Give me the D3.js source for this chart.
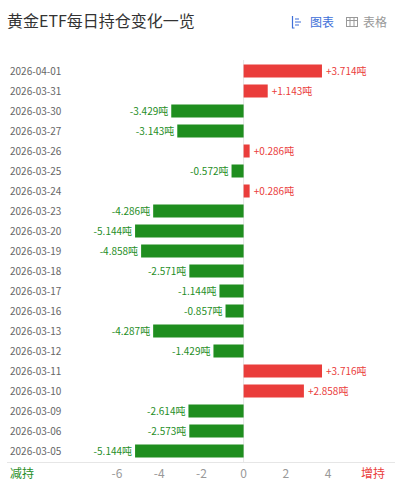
<!DOCTYPE html>
<html><head><meta charset="utf-8">
<script src="https://cdn.jsdelivr.net/npm/d3@7"></script>
<style>body{margin:0;background:#fff;font-family:"Noto Sans CJK SC","Noto Sans",sans-serif;}</style>
</head><body><svg id="c" width="405" height="492"></svg>
<script>
const dates = ["2026-04-01","2026-03-31","2026-03-30","2026-03-27","2026-03-26","2026-03-25","2026-03-24","2026-03-23","2026-03-20","2026-03-19","2026-03-18","2026-03-17","2026-03-16","2026-03-13","2026-03-12","2026-03-11","2026-03-10","2026-03-09","2026-03-06","2026-03-05"];
const values = [3.714,1.143,-3.429,-3.143,0.286,-0.572,0.286,-4.286,-5.144,-4.858,-2.571,-1.144,-0.857,-4.287,-1.429,3.716,2.858,-2.614,-2.573,-5.144];
const ticks = [-6,-4,-2,0,2,4];

const svg = d3.select("#c");
const x = d3.scaleLinear().domain([-6, 4]).range([117, 328]);
const y = d3.scaleBand().domain(dates).range([61, 461]).paddingInner(0.35).paddingOuter(0.175);

svg.append("text").attr("x", 7).attr("y", 27).attr("font-size", 16).attr("fill", "#333").text("黄金ETF每日持仓变化一览");
// icons
const ic = svg.append("g").attr("fill", "none");
ic.append("path").attr("d", "M292.5,16v12h2 M295,19h4 M295,22h6 M295,25h4").attr("stroke", "#3e6fd8").attr("stroke-width", 1.2);
svg.append("text").attr("x", 310).attr("y", 27).attr("font-size", 12).attr("fill", "#3e6fd8").text("图表");
ic.append("rect").attr("x", 346.5).attr("y", 17.5).attr("width", 11).attr("height", 9).attr("stroke", "#999");
ic.append("path").attr("d", "M346.5,20.5h11 M350,17.5v9 M354,17.5v9").attr("stroke", "#999");
svg.append("text").attr("x", 363).attr("y", 27).attr("font-size", 12).attr("fill", "#999").text("表格");

svg.append("line").attr("x1", x(0)).attr("x2", x(0)).attr("y1", 60).attr("y2", 462).attr("stroke", "#e6e6e6");
svg.append("line").attr("x1", 7).attr("x2", 395).attr("y1", 462.5).attr("y2", 462.5).attr("stroke", "#e6e6e6");

svg.selectAll(".d").data(dates).join("text")
  .attr("x", 10).attr("y", d => y(d) + y.bandwidth() / 2 + 4)
  .attr("font-size", 10).attr("fill", "#666").text(d => d);

svg.selectAll(".b").data(values).join("rect")
  .attr("x", d => x(Math.min(0, d))).attr("y", (d, i) => y(dates[i]))
  .attr("width", d => Math.abs(x(d) - x(0))).attr("height", y.bandwidth())
  .attr("fill", d => d > 0 ? "#ea3d3b" : "#1f8e1f");

svg.selectAll(".l").data(values).join("text")
  .attr("x", d => d > 0 ? x(d) + 4 : x(d) - 3)
  .attr("y", (d, i) => y(dates[i]) + y.bandwidth() / 2 + 4)
  .attr("text-anchor", d => d > 0 ? "start" : "end")
  .attr("font-size", 10).attr("fill", d => d > 0 ? "#ea3d3b" : "#1f8e1f")
  .text(d => (d > 0 ? "+" : "") + d.toFixed(3) + "吨");

svg.selectAll(".t").data(ticks).join("text")
  .attr("x", d => x(d)).attr("y", 478).attr("text-anchor", "middle")
  .attr("font-size", 12).attr("fill", "#999").text(d => d);

svg.append("text").attr("x", 10).attr("y", 478).attr("font-size", 12).attr("fill", "#1f8e1f").text("减持");
svg.append("text").attr("x", 385).attr("y", 478).attr("text-anchor", "end").attr("font-size", 12).attr("fill", "#ea3d3b").text("增持");
</script></body></html>
